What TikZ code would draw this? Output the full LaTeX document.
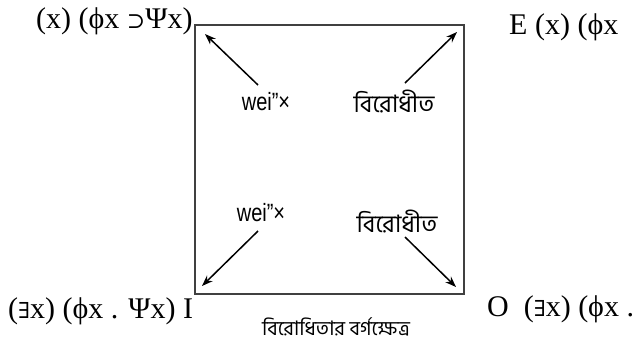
\documentclass[tikz,border=0pt]{standalone}
\usepackage{fontspec}
\setmainfont{Liberation Serif}
\newfontfamily\bnfont[Script=Bengali]{Hind Siliguri}
\newfontfamily\narrowfont{Liberation Sans}
\newfontfamily\symf{DejaVu Serif}
\newcommand{\mysym}[1]{{\symf\fontsize{22}{24}\selectfont #1}}
\usetikzlibrary{arrows.meta}
\begin{document}
\begin{tikzpicture}[x=1pt,y=-1pt,
  formula/.style={inner sep=0pt,font=\fontsize{30}{32}\selectfont},
  bnlabel/.style={inner sep=0pt,font=\bnfont\fontsize{24}{26}\selectfont},
  latlabel/.style={inner sep=0pt,font=\narrowfont\fontsize{25}{27}\selectfont,xscale=0.8},
  arr/.style={-{Stealth[length=11pt,width=8pt]},line width=1.5pt}]
\useasboundingbox (0,0) rectangle (643,349);
\node[draw=black!75,line width=1.2pt,minimum width=269pt,minimum height=269pt,inner sep=0pt] (box) at (329.5,159.5) {};
% corner formulas
\node[formula,anchor=base west] (A) at (36,28) {(x) (ϕx \mysym{⊃}Ψx)};
\node[formula,anchor=base west] (E) at (509,34) {E (x) (ϕx};
\node[formula,anchor=base west] (I) at (8,318) {(\mysym{∃}x) (ϕx . Ψx) I};
\node[formula,anchor=base west] (O) at (487,316) {O\ \ (\mysym{∃}x) (ϕx .};
% caption
\node[bnlabel,font=\bnfont\fontsize{20}{22}\selectfont] (cap) at (336,327) {বিরোধিতার বর্গক্ষেত্র};
% inner labels
\node[latlabel] (l1) at (266,102) {wei”×};
\node[bnlabel] (l2) at (394,102) {বিরোধীত};
\node[latlabel] (l3) at (261,213) {wei”×};
\node[bnlabel] (l4) at (397,222) {বিরোধীত};
% arrow ends
\coordinate (t1s) at (258,85);  \coordinate (t1e) at (205,34);
\coordinate (t2s) at (405,83);  \coordinate (t2e) at (457,32);
\coordinate (t3s) at (258,231); \coordinate (t3e) at (202,286);
\coordinate (t4s) at (405,237); \coordinate (t4e) at (456,287);
\draw[arr] (t1s) -- (t1e);
\draw[arr] (t2s) -- (t2e);
\draw[arr] (t3s) -- (t3e);
\draw[arr] (t4s) -- (t4e);
\end{tikzpicture}
\end{document}
